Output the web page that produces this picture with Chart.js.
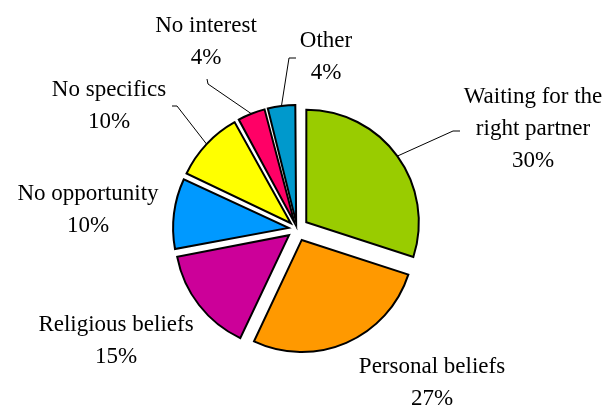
<!DOCTYPE html>
<html>
<head>
<meta charset="utf-8">
<title>Reasons</title>
<script src="https://cdn.jsdelivr.net/npm/chart.js"></script>
<style>
  html, body { margin: 0; padding: 0; background: #fff; }
  canvas { display: block; }
</style>
</head>
<body>
<canvas id="reasonsChart" width="610" height="406"></canvas>
<script>
// slices, clockwise from 12 o'clock
const reasonLabels = [
    ['Waiting for the', 'right partner'],
    ['Personal beliefs'],
    ['Religious beliefs'],
    ['No opportunity'],
    ['No specifics'],
    ['No interest'],
    ['Other']
];
const reasonShares = [30, 27, 15, 10, 10, 4, 4];
const sliceColors = ['#99CC00', '#FF9900', '#CC0099', '#0099FF', '#FFFF00', '#FF0066', '#0099CC'];

// where each label block sits (centre x, first baseline) and the leader elbow, if any
const labelSpots = [
    { x: 533, y: 103, elbow: [[453, 131], [460, 131]] },
    { x: 432, y: 373, elbow: null },
    { x: 116, y: 331, elbow: null },
    { x: 88, y: 200, elbow: null },
    { x: 109, y: 96, elbow: [[177, 106], [172, 106]] },
    { x: 206, y: 32, elbow: [[208, 84], [207, 79]] },
    { x: 326, y: 47, elbow: [[289, 58], [296, 58]] }
];
const lineGap = 32;
const explodePx = 12;

// ArcElement moves a slice by offset/4 * (2 - sin(angle)), so undo that to get an even gap
const total = reasonShares.reduce((a, b) => a + b, 0);
const sliceOffsets = reasonShares.map(v => {
    const circ = v / total * Math.PI * 2;
    const fix = 1 - Math.sin(Math.min(Math.PI, circ));
    return explodePx * 4 / (1 + fix);
});

const outsideLabels = {
    id: 'outsideLabels',
    afterDatasetsDraw(chart) {
        const ctx = chart.ctx;
        const arcs = chart.getDatasetMeta(0).data;
        ctx.save();
        ctx.strokeStyle = '#000';
        ctx.lineWidth = 1;
        arcs.forEach((arc, i) => {
            const p = arc.getProps(['x', 'y', 'startAngle', 'endAngle', 'outerRadius'], true);
            const mid = (p.startAngle + p.endAngle) / 2;
            const reach = p.outerRadius + explodePx;
            const spot = labelSpots[i];
            if (spot.elbow) {
                ctx.beginPath();
                ctx.moveTo(p.x + Math.cos(mid) * reach, p.y + Math.sin(mid) * reach);
                spot.elbow.forEach(pt => ctx.lineTo(pt[0], pt[1]));
                ctx.stroke();
            }
            const lines = reasonLabels[i].concat([reasonShares[i] + '%']);
            ctx.fillStyle = '#000';
            ctx.font = '23px "Liberation Serif", "Times New Roman", serif';
            ctx.textAlign = 'center';
            ctx.textBaseline = 'alphabetic';
            lines.forEach((t, k) => ctx.fillText(t, spot.x, spot.y + k * lineGap));
        });
        ctx.restore();
    }
};

new Chart(document.getElementById('reasonsChart'), {
    type: 'pie',
    data: {
        labels: reasonLabels.map(l => l.join(' ')),
        datasets: [{
            data: reasonShares,
            backgroundColor: sliceColors,
            borderColor: '#000',
            borderWidth: 2,
            borderJoinStyle: 'miter',
            offset: sliceOffsets,
            hoverOffset: 0
        }]
    },
    options: {
        responsive: false,
        animation: false,
        radius: 112,
        layout: {
            padding: { left: 178, right: 194, top: 110, bottom: 58 }
        },
        plugins: {
            legend: { display: false },
            tooltip: { enabled: false }
        }
    },
    plugins: [outsideLabels]
});
</script>
</body>
</html>
